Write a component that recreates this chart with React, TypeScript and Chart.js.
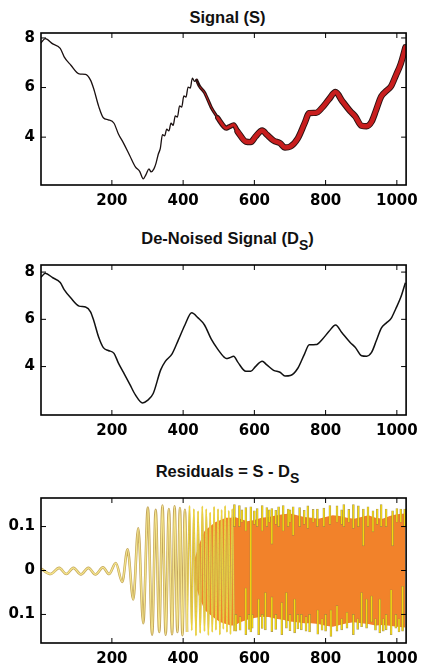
import React, { useEffect, useRef } from "react";
import { Chart, registerables } from "chart.js";
Chart.register(...registerables);

// ---------- data ----------
const xTicks = [200, 400, 600, 800, 1000];
const signalYTicks = [4, 6, 8];
const residualYTicks = [-0.1, 0, 0.1];
const residualTickLabels = ["0.1", "0", "0.1"];

// Signal (S)
const signalX = [1, 13, 34, 55, 66, 85, 108, 126, 140, 149, 163, 176, 190, 206, 218, 233, 250, 266, 278, 288, 296, 304, 310, 318, 324, 330, 336, 342, 348, 354, 360, 366, 372, 378, 384, 390, 396, 402, 408, 414, 420, 426, 432, 438, 446, 460, 479, 497, 515, 521, 530, 542, 553, 576, 590, 603, 622, 635, 654, 672, 686, 701, 722, 741, 754, 773, 791, 809, 828, 846, 869, 883, 901, 915, 929, 942, 956, 970, 984, 997, 1011, 1024];
const signalY = [7.8, 7.97, 7.76, 7.58, 7.24, 6.9, 6.55, 6.53, 6.3, 5.95, 5.24, 4.78, 4.7, 4.56, 4.14, 3.75, 3.26, 2.8, 2.62, 2.32, 2.5, 2.72, 2.6, 2.72, 2.95, 3.3, 3.55, 4.1, 4.05, 4.32, 4.25, 4.56, 4.48, 4.86, 4.81, 5.26, 5.21, 5.66, 5.61, 6.02, 5.98, 6.38, 6.25, 6.3, 6.05, 5.8, 5.2, 4.78, 4.42, 4.36, 4.42, 4.5, 4.22, 3.82, 3.8, 4.02, 4.27, 4.1, 3.86, 3.76, 3.58, 3.62, 3.95, 4.56, 4.97, 4.98, 5.2, 5.52, 5.82, 5.47, 5.05, 4.84, 4.46, 4.44, 4.62, 5.1, 5.64, 5.86, 6.06, 6.48, 6.96, 7.62];
// x ranges of S where the dense noise band is thin / medium / full
const noiseRanges = [[438, 497], [497, 553], [553, 1024]];

// De-Noised Signal (D_S)
const denoisedX = [1, 13, 34, 55, 66, 85, 108, 126, 140, 149, 163, 176, 190, 206, 218, 233, 250, 266, 286, 300, 316, 337, 350, 369, 387, 405, 424, 442, 460, 479, 497, 515, 521, 530, 542, 553, 576, 590, 603, 622, 635, 654, 672, 686, 701, 722, 741, 754, 773, 791, 809, 828, 846, 869, 883, 901, 915, 929, 942, 956, 970, 984, 997, 1011, 1024];
const denoisedY = [7.78, 7.95, 7.76, 7.56, 7.26, 6.9, 6.56, 6.52, 6.32, 5.95, 5.24, 4.8, 4.68, 4.56, 4.16, 3.74, 3.26, 2.8, 2.46, 2.57, 2.86, 3.86, 4.22, 4.54, 5.14, 5.76, 6.28, 6.06, 5.76, 5.16, 4.74, 4.4, 4.34, 4.37, 4.44, 4.2, 3.8, 3.8, 4.0, 4.23, 4.07, 3.84, 3.76, 3.6, 3.62, 3.93, 4.54, 4.92, 4.93, 5.16, 5.48, 5.76, 5.43, 5.02, 4.82, 4.46, 4.44, 4.6, 5.08, 5.62, 5.84, 6.04, 6.45, 6.93, 7.55];

// Residuals = S - D_S : visible oscillation peaks / troughs
const waveX = [1, 28, 52, 72, 92, 113, 134, 154, 175, 192, 211, 229, 244, 260, 274, 288, 301, 313, 323, 333, 342, 351, 360, 369, 376, 384, 391, 398, 405, 411, 418, 424, 430, 436, 442, 448, 454, 460, 465, 471, 476, 482, 487, 492, 498, 503, 508, 513, 518, 523, 528, 533, 538, 543];
const waveY = [0.004, -0.008, 0.006, -0.008, 0.006, -0.009, 0.006, -0.009, 0.007, -0.008, 0.017, -0.026, 0.048, -0.066, 0.096, -0.12, 0.143, -0.146, 0.138, -0.14, 0.148, -0.146, 0.14, -0.145, 0.146, -0.14, 0.142, -0.147, 0.138, -0.14, 0.147, -0.136, 0.14, -0.148, 0.135, -0.142, 0.146, -0.138, 0.14, -0.147, 0.132, -0.14, 0.145, -0.135, 0.14, -0.146, 0.138, -0.133, 0.147, -0.14, 0.136, -0.145, 0.14, -0.138];
const waveDenseFrom = 411; // x where the oscillation strokes crowd together
// dense part: envelope of the solid band
const bandX = [430, 445, 460, 475, 490, 505, 520, 535, 545, 560, 580, 600, 620, 640, 660, 680, 700, 720, 740, 760, 780, 800, 820, 840, 860, 880, 900, 920, 940, 960, 980, 1000, 1024];
const bandHi = [0.02, 0.06, 0.09, 0.1, 0.11, 0.115, 0.12, 0.12, 0.122, 0.118, 0.112, 0.115, 0.12, 0.122, 0.125, 0.128, 0.13, 0.126, 0.122, 0.12, 0.118, 0.122, 0.126, 0.124, 0.12, 0.118, 0.122, 0.126, 0.12, 0.118, 0.124, 0.128, 0.13];
const bandLo = [-0.02, -0.06, -0.09, -0.1, -0.11, -0.118, -0.122, -0.125, -0.125, -0.118, -0.112, -0.108, -0.105, -0.106, -0.11, -0.112, -0.116, -0.118, -0.12, -0.12, -0.122, -0.126, -0.128, -0.124, -0.12, -0.118, -0.12, -0.122, -0.125, -0.124, -0.126, -0.128, -0.13];
// dense part: stray strokes that stick out of the band
const topSpikeX = [544, 558, 565, 576, 590, 600, 608, 622, 635, 642, 649, 660, 668, 681, 695, 700, 709, 727, 740, 750, 765, 777, 795, 812, 832, 845, 851, 865, 878, 892, 906, 919, 933, 945, 956, 970, 988, 1000, 1011, 1022];
const topSpikeLo = [0.1, 0.1, 0.11, 0.09, -0.14, 0.105, 0.1, 0.09, 0.1, 0.11, 0.06, 0.105, 0.1, 0.09, 0.1, 0.11, 0.08, 0.1, 0.105, 0.096, 0.11, 0.1, 0.1, 0.105, 0.11, 0.105, 0.1, 0.11, 0.096, 0.1, 0.056, 0.1, 0.088, 0.105, 0.1, 0.1, 0.056, 0.11, 0.11, 0.1];
const topSpikeHi = [0.15, 0.148, 0.138, 0.143, 0.145, 0.136, 0.141, 0.148, 0.143, 0.138, 0.141, 0.137, 0.145, 0.148, 0.14, 0.138, 0.145, 0.143, 0.137, 0.147, 0.139, 0.14, 0.142, 0.148, 0.147, 0.138, 0.15, 0.139, 0.15, 0.147, 0.14, 0.145, 0.136, 0.14, 0.15, 0.14, 0.136, 0.141, 0.14, 0.14];
const botSpikeX = [548, 560, 576, 585, 594, 612, 622, 631, 649, 660, 677, 690, 700, 713, 722, 732, 745, 755, 778, 790, 800, 815, 832, 845, 860, 878, 890, 901, 915, 929, 940, 952, 962, 970, 984, 997, 1006, 1016];
const botSpikeLo = [-0.138, -0.136, -0.146, -0.134, -0.131, -0.146, -0.132, -0.135, -0.139, -0.134, -0.146, -0.131, -0.137, -0.142, -0.133, -0.135, -0.138, -0.14, -0.145, -0.136, -0.138, -0.15, -0.138, -0.135, -0.131, -0.146, -0.134, -0.128, -0.131, -0.117, -0.136, -0.142, -0.138, -0.135, -0.146, -0.131, -0.14, -0.138];
const botSpikeHi = [-0.1, -0.105, -0.04, -0.1, -0.1, -0.065, -0.1, -0.05, -0.06, -0.1, -0.073, -0.05, -0.1, -0.065, -0.1, -0.1, -0.105, -0.1, -0.09, -0.11, -0.1, -0.09, -0.08, -0.11, -0.095, -0.1, -0.11, -0.05, -0.065, -0.058, -0.11, -0.065, -0.11, -0.1, -0.044, -0.1, -0.11, -0.036];

// ---------- helpers ----------
const pts = (xs: number[], ys: number[]) => xs.map((x, i) => ({ x, y: ys[i] }));
const tickFont = { family: "DejaVu Sans", size: 15, weight: "bold" as const };

function framePlugin(yTicks: number[]) {
  return {
    id: "frame",
    afterDraw(chart: any) {
      const { ctx, chartArea: a, scales } = chart;
      ctx.save();
      ctx.strokeStyle = "#000";
      ctx.lineWidth = 1;
      ctx.beginPath();
      xTicks.forEach((v) => {
        const px = scales.x.getPixelForValue(v);
        ctx.moveTo(px, a.top);
        ctx.lineTo(px, a.top + 5);
        ctx.moveTo(px, a.bottom);
        ctx.lineTo(px, a.bottom - 5);
      });
      yTicks.forEach((v) => {
        const py = scales.y.getPixelForValue(v);
        ctx.moveTo(a.left, py);
        ctx.lineTo(a.left + 5, py);
        ctx.moveTo(a.right, py);
        ctx.lineTo(a.right - 5, py);
      });
      ctx.stroke();
      ctx.lineWidth = 1.6;
      ctx.strokeRect(a.left, a.top, a.right - a.left, a.bottom - a.top);
      ctx.restore();
    },
  };
}

function options(yMin: number, yMax: number, yTicks: number[], yLabels: string[], padTop: number, xAxisH: number, xPad: number) {
  return {
    responsive: false,
    animation: false as const,
    events: [] as any[],
    layout: { padding: { top: padTop, right: 11, left: 0, bottom: 0 }, autoPadding: false },
    plugins: { legend: { display: false }, tooltip: { enabled: false }, title: { display: false } },
    scales: {
      x: {
        type: "linear" as const,
        min: 1,
        max: 1026,
        offset: false,
        grid: { display: false, drawTicks: false },
        border: { display: false },
        afterBuildTicks: (s: any) => {
          s.ticks = xTicks.map((v) => ({ value: v }));
        },
        afterFit: (s: any) => {
          s.height = xAxisH;
        },
        ticks: { padding: xPad, font: tickFont, color: "#000", maxRotation: 0, autoSkip: false, callback: (v: any) => String(v) },
      },
      y: {
        type: "linear" as const,
        min: yMin,
        max: yMax,
        grid: { display: false, drawTicks: false },
        border: { display: false },
        afterBuildTicks: (s: any) => {
          s.ticks = yTicks.map((v) => ({ value: v }));
        },
        afterFit: (s: any) => {
          s.width = 41;
        },
        ticks: { padding: 6, font: tickFont, color: "#000", autoSkip: false, callback: (_v: any, i: number) => yLabels[i] },
      },
    },
  };
}

const titleStyle = (top: number): React.CSSProperties => ({
  position: "absolute",
  left: 41,
  width: 373,
  top,
  textAlign: "center",
  fontFamily: "'Liberation Sans', Arial, sans-serif",
  fontWeight: "bold",
  fontSize: 16.5,
  lineHeight: "18px",
  color: "#111",
  whiteSpace: "nowrap",
});
const subStyle: React.CSSProperties = { fontSize: "0.85em", position: "relative", top: 6 };

export default function App() {
  const c1 = useRef<HTMLCanvasElement>(null);
  const c2 = useRef<HTMLCanvasElement>(null);
  const c3 = useRef<HTMLCanvasElement>(null);

  useEffect(() => {
    const sAll = pts(signalX, signalY);
    const sLeft = sAll.filter((p) => p.x <= noiseRanges[0][0] + 8);
    const blackW = [3.2, 5.2, 6.4];
    const redW = [1.0, 3.0, 4.5];
    const noisySets: any[] = [];
    noiseRanges.forEach(([a, b], k) => {
      const seg = sAll.filter((p) => p.x >= a && p.x <= b);
      noisySets.push({ data: seg, borderColor: "#c81e1e", borderWidth: redW[k], pointRadius: 0, cubicInterpolationMode: "monotone", borderCapStyle: "round", order: 1 });
      noisySets.push({ data: seg, borderColor: "#2a1212", borderWidth: blackW[k], pointRadius: 0, cubicInterpolationMode: "monotone", borderCapStyle: "round", order: 2 });
    });

    const wAll = pts(waveX, waveY);
    const wSparse = wAll.filter((p) => p.x <= waveDenseFrom);
    const wDense = wAll.filter((p) => p.x >= waveDenseFrom);

    const chart1 = new Chart(c1.current!, {
      type: "line",
      data: {
        datasets: [
          { data: sLeft, borderColor: "#1a1010", borderWidth: 1.3, pointRadius: 0, cubicInterpolationMode: "monotone", order: 0 },
          ...noisySets,
        ],
      },
      options: options(2.07, 8.2, signalYTicks, signalYTicks.map(String), 33, 30, 7) as any,
      plugins: [framePlugin(signalYTicks)],
    });

    const chart2 = new Chart(c2.current!, {
      type: "line",
      data: {
        datasets: [
          { data: pts(denoisedX, denoisedY), borderColor: "#111", borderWidth: 1.5, pointRadius: 0, cubicInterpolationMode: "monotone" },
        ],
      },
      options: options(1.95, 8.3, signalYTicks, signalYTicks.map(String), 10, 30, 7) as any,
      plugins: [framePlugin(signalYTicks)],
    });

    const chart3 = new Chart(c3.current!, {
      type: "line",
      data: {
        datasets: [
          { data: pts(bandX, bandHi), borderWidth: 0, pointRadius: 0, fill: "+1", backgroundColor: "#f2822a", borderColor: "#f2822a", order: 6 },
          { data: pts(bandX, bandLo), borderWidth: 0, pointRadius: 0, fill: false, borderColor: "#f2822a", order: 7 },
          { data: wSparse, borderColor: "#c2a55c", borderWidth: 2.6, pointRadius: 0, cubicInterpolationMode: "monotone", order: 3 },
          { data: wSparse, borderColor: "#f6e68c", borderWidth: 1.3, pointRadius: 0, cubicInterpolationMode: "monotone", order: 2 },
          { data: wDense, borderColor: "#c6a64e", borderWidth: 1.7, pointRadius: 0, cubicInterpolationMode: "monotone", order: 3 },
          { data: wDense, borderColor: "#f5de3c", borderWidth: 0.8, pointRadius: 0, cubicInterpolationMode: "monotone", order: 2 },
          {
            type: "bar", data: topSpikeX.map((x, i) => ({ x, y: [topSpikeLo[i], topSpikeHi[i]] })),
            backgroundColor: "#f4d80e", borderColor: "rgba(150,130,70,0.85)", borderWidth: 0.6, borderSkipped: false,
            barThickness: 2, grouped: false, order: 1,
          },
          {
            type: "bar", data: botSpikeX.map((x, i) => ({ x, y: [botSpikeLo[i], botSpikeHi[i]] })),
            backgroundColor: "#f4d80e", borderColor: "rgba(150,130,70,0.85)", borderWidth: 0.6, borderSkipped: false,
            barThickness: 2, grouped: false, order: 1,
          },
        ] as any,
      },
      options: options(-0.165, 0.165, residualYTicks, residualTickLabels, 10, 26, 7) as any,
      plugins: [framePlugin(residualYTicks)],
    });

    return () => {
      chart1.destroy();
      chart2.destroy();
      chart3.destroy();
    };
  }, []);

  return (
    <div style={{ position: "absolute", left: 0, top: 0, width: 425, height: 669, overflow: "hidden", background: "#fff" }}>
      <div style={titleStyle(7.5)}>Signal (S)</div>
      <div style={titleStyle(229)}>
        De-Noised Signal (D<span style={subStyle}>S</span>)
      </div>
      <div style={titleStyle(462)}>
        Residuals = S - D<span style={subStyle}>S</span>
      </div>
      <canvas ref={c1} width={425} height={215} style={{ position: "absolute", left: 0, top: 0, width: 425, height: 215 }} />
      <canvas ref={c2} width={425} height={195} style={{ position: "absolute", left: 0, top: 250, width: 425, height: 195 }} />
      <canvas ref={c3} width={425} height={186} style={{ position: "absolute", left: 0, top: 483, width: 425, height: 186 }} />
    </div>
  );
}
